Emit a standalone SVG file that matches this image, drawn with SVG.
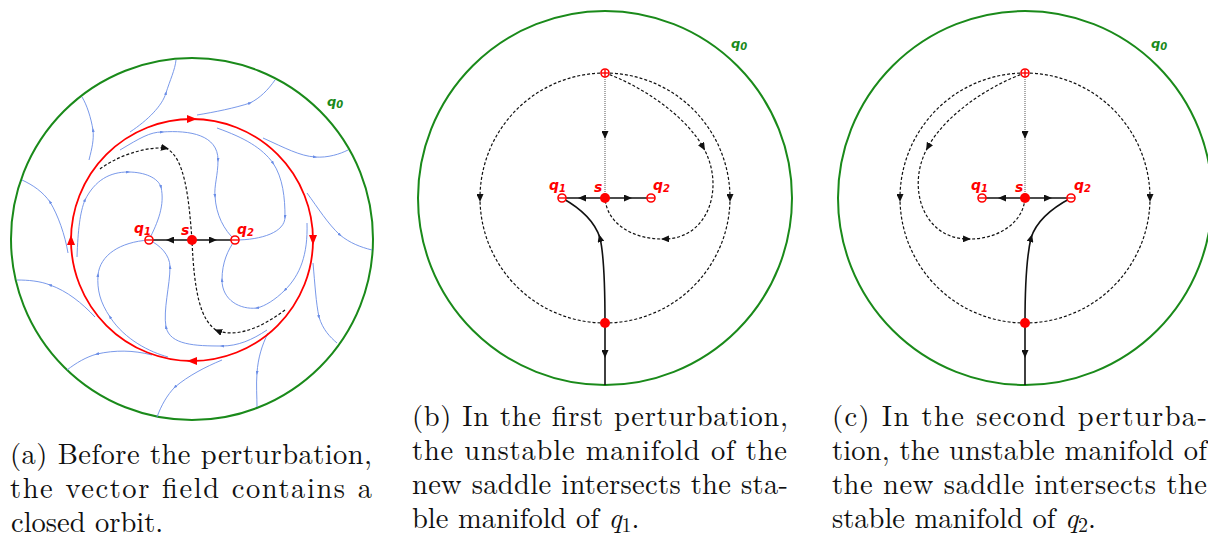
<svg xmlns="http://www.w3.org/2000/svg" width="1208" height="539" viewBox="0 0 1208 539">
<defs>
<style>
.bnd{fill:none;stroke:#1a8a1a;stroke-width:2}
.orb{fill:none;stroke:#f00;stroke-width:1.8;marker-start:url(#arR);marker-mid:url(#arR)}
.fl{fill:none;stroke:#6a8de6;stroke-width:0.9;marker-mid:url(#arB)}
.dsh{fill:none;stroke:#111;stroke-width:1.2;stroke-dasharray:3 2;marker-mid:url(#arK)}
.dot{fill:none;stroke:#888;stroke-width:1.4;stroke-dasharray:1 1;marker-mid:url(#arK)}
.sol{fill:none;stroke:#111;stroke-width:1.6;marker-mid:url(#arK)}
.sink{fill:#fff;stroke:#f00;stroke-width:1.6}
.bar{stroke:#f00;stroke-width:1.4}
.sad{fill:#f00}
.lbl{font-family:'DejaVu Sans',Verdana,sans-serif;font-weight:bold;font-style:italic;font-size:14px;fill:#f00}
.sub{font-size:10px}
.q0{fill:#1a8a1a;font-size:13px}
.cap{font-family:'Latin Modern Roman','CMU Serif','Liberation Serif','DejaVu Serif','Noto Serif','TeX Gyre Termes','Nimbus Roman','FreeSerif','Tinos','Times New Roman',Times,Georgia,serif;font-size:28.5px;fill:#111}
.ms{font-size:20px}
</style>
<marker id="arR" markerUnits="userSpaceOnUse" markerWidth="10" markerHeight="8" refX="5" refY="4" orient="auto"><path d="M0,0 L10,4 L0,8 z" fill="#f00"/></marker>
<marker id="arK" markerUnits="userSpaceOnUse" markerWidth="8" markerHeight="7" refX="4" refY="3.5" orient="auto"><path d="M0,0 L8,3.5 L0,7 z" fill="#111"/></marker>
<marker id="arB" markerUnits="userSpaceOnUse" markerWidth="4" markerHeight="3" refX="2" refY="1.5" orient="auto"><path d="M0,0 L4,1.5 L0,3 z" fill="#6a8de6"/></marker>
</defs>
<rect width="1208" height="539" fill="#fff"/>

<!-- ============ Panel (a) ============ -->
<g id="panel-a">
<g id="connectors-a">
<circle class="bnd" cx="192" cy="239" r="181"/>
<path class="fl" d="M130,132 C148,120 162,106 166,93 C170,80 175,70 176,60"/>
<path class="fl" d="M89,160 C92,148 94,140 93,130 C91,118 87,105 82,97"/>
<path class="fl" d="M197,115 C215,112 235,108 250,103 C260,98 268,90 275,80"/>
<path class="fl" d="M263,138 C285,148 300,156 315,157 C328,158 340,154 348,150"/>
<path class="fl" d="M307,193 C318,208 328,224 340,235 C350,243 360,247 372,250"/>
<path class="fl" d="M313,263 C315,285 316,303 319,317 C323,330 330,337 337,343"/>
<path class="fl" d="M268,333 C262,345 258,358 257,373 C256,385 257,397 257,407"/>
<path class="fl" d="M222,360 C205,367 188,376 175,387 C167,395 161,406 157,417"/>
<path class="fl" d="M152,355 C133,350 115,350 97,354 C86,357 76,363 67,370"/>
<path class="fl" d="M95,317 C82,303 67,291 50,285 C40,281 28,280 17,280"/>
<path class="fl" d="M68,253 C65,235 58,215 50,202 C43,192 33,185 22,180"/>
<path class="fl" d="M120,150 C140,138 150,132 162,132 C190,130 218,135 218,160 C218,175 214,186 215,196 C216,215 224,230 235,240"/>
<path class="fl" d="M77,257 C78,230 80,212 85,200 C95,180 110,172 128,172 C145,172 158,178 161,187 C165,205 158,222 149,240"/>
<path class="fl" d="M217,128 C245,138 262,148 273,163 C283,178 285,198 285,217 C285,232 262,240 235,240"/>
<path class="fl" d="M267,330 C252,340 238,346 222,346 C195,346 170,345 166,327 C163,310 170,285 170,267 C170,255 160,245 149,240"/>
<path class="fl" d="M168,357 C150,352 125,340 110,317 C100,302 97,290 98,275 C100,255 120,242 149,240"/>
<path class="fl" d="M307,223 C308,255 300,275 285,290 C275,300 265,306 257,308 C240,310 222,300 222,280 C222,262 228,250 235,240"/>
<path class="orb" d="M71,240 A121,121 0 0 1 192,119 A121,121 0 0 1 313,240 A121,121 0 0 1 192,361 A121,121 0 0 1 71,240"/>
<path class="dsh" d="M100,169 C115,158 140,147 165,148 C185,155 189,200 192,240"/>
<path class="dsh" d="M285,310 C265,325 240,338 218,331 C200,322 194,290 192,240"/>
<path class="sol" d="M192,240 L170,240 L149,240"/>
<path class="sol" d="M192,240 L213,240 L235,240"/>
</g>
<g id="a-q1"><circle class="sink" cx="149" cy="240" r="4"/><line class="bar" x1="145.5" y1="240" x2="152.5" y2="240"/><text class="lbl" x="134" y="233">q<tspan class="sub" dy="2">1</tspan></text></g>
<g id="a-s"><circle class="sad" cx="192" cy="240" r="5"/><text class="lbl" x="181" y="235">s</text></g>
<g id="a-q2"><circle class="sink" cx="235" cy="240" r="4"/><line class="bar" x1="231.5" y1="240" x2="238.5" y2="240"/><text class="lbl" x="237" y="234">q<tspan class="sub" dy="2">2</tspan></text></g>
<g id="a-q0"><text class="lbl q0" x="327" y="106">q<tspan class="sub" dy="2">0</tspan></text></g>
<text class="cap" x="10" y="464" textLength="362" lengthAdjust="spacing">(a) Before the perturbation,</text>
<text class="cap" x="10" y="498" textLength="362" lengthAdjust="spacing">the vector field contains a</text>
<text class="cap" x="11" y="532">closed orbit.</text>
</g>

<!-- ============ Panel (b) ============ -->
<g id="panel-b">
<g id="connectors-b">
<circle class="bnd" cx="605" cy="198" r="187"/>
<path class="dsh" d="M605,73 A125,125 0 0 0 480,198 A125,125 0 0 0 605,323"/>
<path class="dsh" d="M605,73 A125,125 0 0 1 730,198 A125,125 0 0 1 605,323"/>
<path class="dot" d="M605,73 L605,135 L605,198"/>
<path class="dsh" d="M605,73 C640,85 685,115 703,147 C725,185 710,238 665,239 C635,240 607,225 605,198"/>
<path class="sol" d="M605,323 C605,280 604,255 600,238 C595,222 580,208 562,198"/>
<path class="sol" d="M605,323 L605,354 L605,385"/>
<path class="sol" d="M605,198 L582,198 L562,198"/>
<path class="sol" d="M605,198 L628,198 L651,198"/>
</g>
<g id="b-top"><circle class="sink" cx="605" cy="73" r="4"/><line class="bar" x1="601.5" y1="73" x2="608.5" y2="73"/><line class="bar" x1="605" y1="69.5" x2="605" y2="76.5"/></g>
<g id="b-bot"><circle class="sad" cx="605" cy="323" r="5"/></g>
<g id="b-q1"><circle class="sink" cx="562" cy="198" r="4"/><line class="bar" x1="558.5" y1="198" x2="565.5" y2="198"/><text class="lbl" x="549" y="190">q<tspan class="sub" dy="2">1</tspan></text></g>
<g id="b-s"><circle class="sad" cx="605" cy="198" r="5"/><text class="lbl" x="594" y="192">s</text></g>
<g id="b-q2"><circle class="sink" cx="651" cy="198" r="4"/><line class="bar" x1="647.5" y1="198" x2="654.5" y2="198"/><text class="lbl" x="653" y="190">q<tspan class="sub" dy="2">2</tspan></text></g>
<g id="b-q0"><text class="lbl q0" x="731" y="48">q<tspan class="sub" dy="2">0</tspan></text></g>
<text class="cap" x="412" y="426" textLength="376" lengthAdjust="spacing">(b) In the first perturbation,</text>
<text class="cap" x="412" y="460" textLength="375" lengthAdjust="spacing">the unstable manifold of the</text>
<text class="cap" x="412" y="494" textLength="376" lengthAdjust="spacing">new saddle intersects the sta-</text>
<text class="cap" x="412" y="528">ble manifold of <tspan font-style="italic">q</tspan><tspan class="ms" dy="4">1</tspan><tspan dy="-4">.</tspan></text>
</g>

<!-- ============ Panel (c) ============ -->
<g id="panel-c">
<g id="connectors-c">
<circle class="bnd" cx="1025" cy="198" r="187"/>
<path class="dsh" d="M1025,73 A125,125 0 0 0 900,198 A125,125 0 0 0 1025,323"/>
<path class="dsh" d="M1025,73 A125,125 0 0 1 1150,198 A125,125 0 0 1 1025,323"/>
<path class="dot" d="M1025,73 L1025,135 L1025,198"/>
<path class="dsh" d="M1025,73 C990,85 945,115 928,147 C906,185 922,238 967,239 C995,240 1023,225 1025,198"/>
<path class="sol" d="M1025,323 C1025,280 1027,255 1031,238 C1036,222 1052,208 1071,198"/>
<path class="sol" d="M1025,323 L1025,354 L1025,385"/>
<path class="sol" d="M1025,198 L1002,198 L982,198"/>
<path class="sol" d="M1025,198 L1048,198 L1071,198"/>
</g>
<g id="c-top"><circle class="sink" cx="1025" cy="73" r="4"/><line class="bar" x1="1021.5" y1="73" x2="1028.5" y2="73"/><line class="bar" x1="1025" y1="69.5" x2="1025" y2="76.5"/></g>
<g id="c-bot"><circle class="sad" cx="1025" cy="323" r="5"/></g>
<g id="c-q1"><circle class="sink" cx="982" cy="198" r="4"/><line class="bar" x1="978.5" y1="198" x2="985.5" y2="198"/><text class="lbl" x="971" y="190">q<tspan class="sub" dy="2">1</tspan></text></g>
<g id="c-s"><circle class="sad" cx="1025" cy="198" r="5"/><text class="lbl" x="1015" y="192">s</text></g>
<g id="c-q2"><circle class="sink" cx="1071" cy="198" r="4"/><line class="bar" x1="1067.5" y1="198" x2="1074.5" y2="198"/><text class="lbl" x="1074" y="190">q<tspan class="sub" dy="2">2</tspan></text></g>
<g id="c-q0"><text class="lbl q0" x="1151" y="48">q<tspan class="sub" dy="2">0</tspan></text></g>
<text class="cap" x="832" y="426" textLength="375" lengthAdjust="spacing">(c) In the second perturba-</text>
<text class="cap" x="832" y="460" textLength="375" lengthAdjust="spacing">tion, the unstable manifold of</text>
<text class="cap" x="832" y="494" textLength="375" lengthAdjust="spacing">the new saddle intersects the</text>
<text class="cap" x="832" y="528">stable manifold of <tspan font-style="italic">q</tspan><tspan class="ms" dy="4">2</tspan><tspan dy="-4">.</tspan></text>
</g>
</svg>
